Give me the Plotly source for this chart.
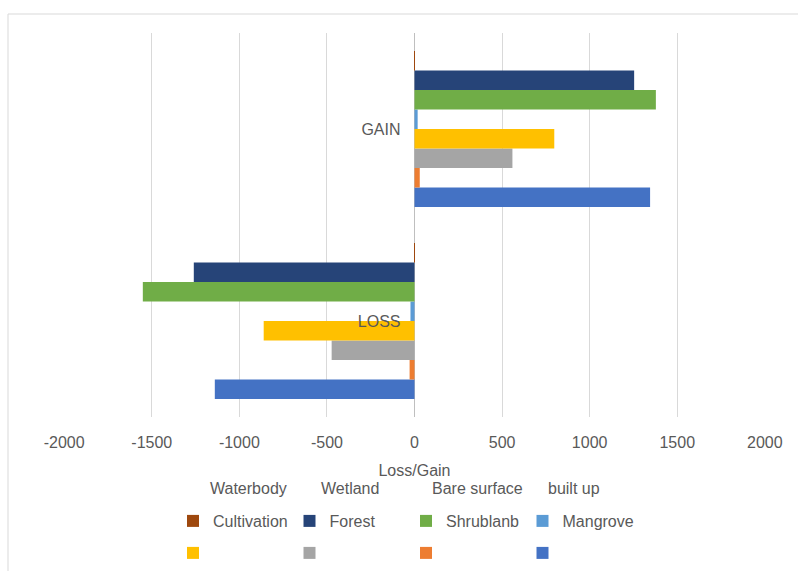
import plotly.graph_objects as go

categories = ["LOSS", "GAIN"]
series_names = ["Cultivation", "Forest", "Shrublanb", "Mangrove",
                "Waterbody", "Wetland", "Bare surface", "built up"]
series_colors = ["#9E480E", "#264478", "#70AD47", "#5B9BD5",
                 "#FFC000", "#A5A5A5", "#ED7D31", "#4472C4"]
# values per series: [LOSS, GAIN]
values = {
    "Cultivation": [-1, 1],
    "Forest": [-1260, 1254],
    "Shrublanb": [-1551, 1378],
    "Mangrove": [-23, 18],
    "Waterbody": [-861, 798],
    "Wetland": [-473, 559],
    "Bare surface": [-28, 30],
    "built up": [-1140, 1345],
}
x_ticks = [-2000, -1500, -1000, -500, 0, 500, 1000, 1500, 2000]
x_ticklabels = ["-2000", "-1500", "-1000", "-500", "0", "500", "1000", "1500", "2000"]
x_title = "Loss/Gain"
legend_row1 = series_names[:4]
orphan_labels = series_names[4:]

W, H = 798, 571
ML, MR, MT, MB = 64, 33, 33, 154
PW, PH = W - ML - MR, H - MT - MB


def px_x(p):
    return (p - ML) / PW


def px_y(p):
    return (H - MB - p) / PH


FONT = "Liberation Sans, Arial, sans-serif"
TXT = "#595959"

fig = go.Figure()
# plotly puts the first horizontal bar trace at the bottom of a group,
# so add in reverse to get Cultivation on top
for name, color in reversed(list(zip(series_names, series_colors))):
    fig.add_trace(go.Bar(
        y=categories, x=values[name], name=name if name in legend_row1 else "",
        orientation="h", marker=dict(color=color, line=dict(width=0)),
        legend="legend" if name in legend_row1 else "legend2",
        hovertemplate=name + ": %{x}<extra></extra>",
    ))

# texts of the second legend row, drawn above the first row as in the source
for lab, xs in zip(orphan_labels, [208, 319, 430, 546]):
    fig.add_annotation(text=lab, x=px_x(xs), y=px_y(488), xref="paper", yref="paper",
                       xanchor="left", yanchor="middle", showarrow=False,
                       font=dict(family=FONT, size=16, color=TXT))

legend_common = dict(orientation="h", xanchor="left", yanchor="middle",
                     entrywidth=71.5, entrywidthmode="pixels", traceorder="reversed",
                     font=dict(family=FONT, size=16, color=TXT),
                     bgcolor="rgba(0,0,0,0)")

fig.update_layout(
    width=W, height=H, autosize=False,
    margin=dict(l=ML, r=MR, t=MT, b=MB, autoexpand=False),
    paper_bgcolor="white", plot_bgcolor="white",
    barmode="group", bargap=0.1875, bargroupgap=0,
    font=dict(family=FONT, size=16, color=TXT),
    xaxis=dict(range=[-2001, 2001], tickvals=x_ticks, ticktext=x_ticklabels,
               showgrid=True, gridcolor="#d9d9d9", gridwidth=1.3, zeroline=True,
               zerolinecolor="#bfbfbf", zerolinewidth=1.3, ticklabelstandoff=14,
               title=dict(text=x_title, font=dict(size=16, color=TXT), standoff=14),
               tickfont=dict(size=16, color=TXT), ticks="", showline=False,
               automargin=False),
    yaxis=dict(categoryorder="array", categoryarray=categories,
               anchor="free", position=0.5, showgrid=False, zeroline=False,
               ticks="", showline=False, ticklabelstandoff=14, automargin=False,
               tickfont=dict(size=16, color=TXT)),
    legend=dict(x=px_x(173), y=px_y(521), **legend_common),
    legend2=dict(x=px_x(173), y=px_y(553), **legend_common),
    showlegend=True,
    shapes=[dict(type="rect", xref="paper", yref="paper",
                 x0=px_x(8), x1=px_x(W + 20), y0=px_y(H + 20), y1=px_y(14),
                 line=dict(color="#d9d9d9", width=1), fillcolor="rgba(0,0,0,0)",
                 layer="below")],
)

fig.write_html("out.html")
